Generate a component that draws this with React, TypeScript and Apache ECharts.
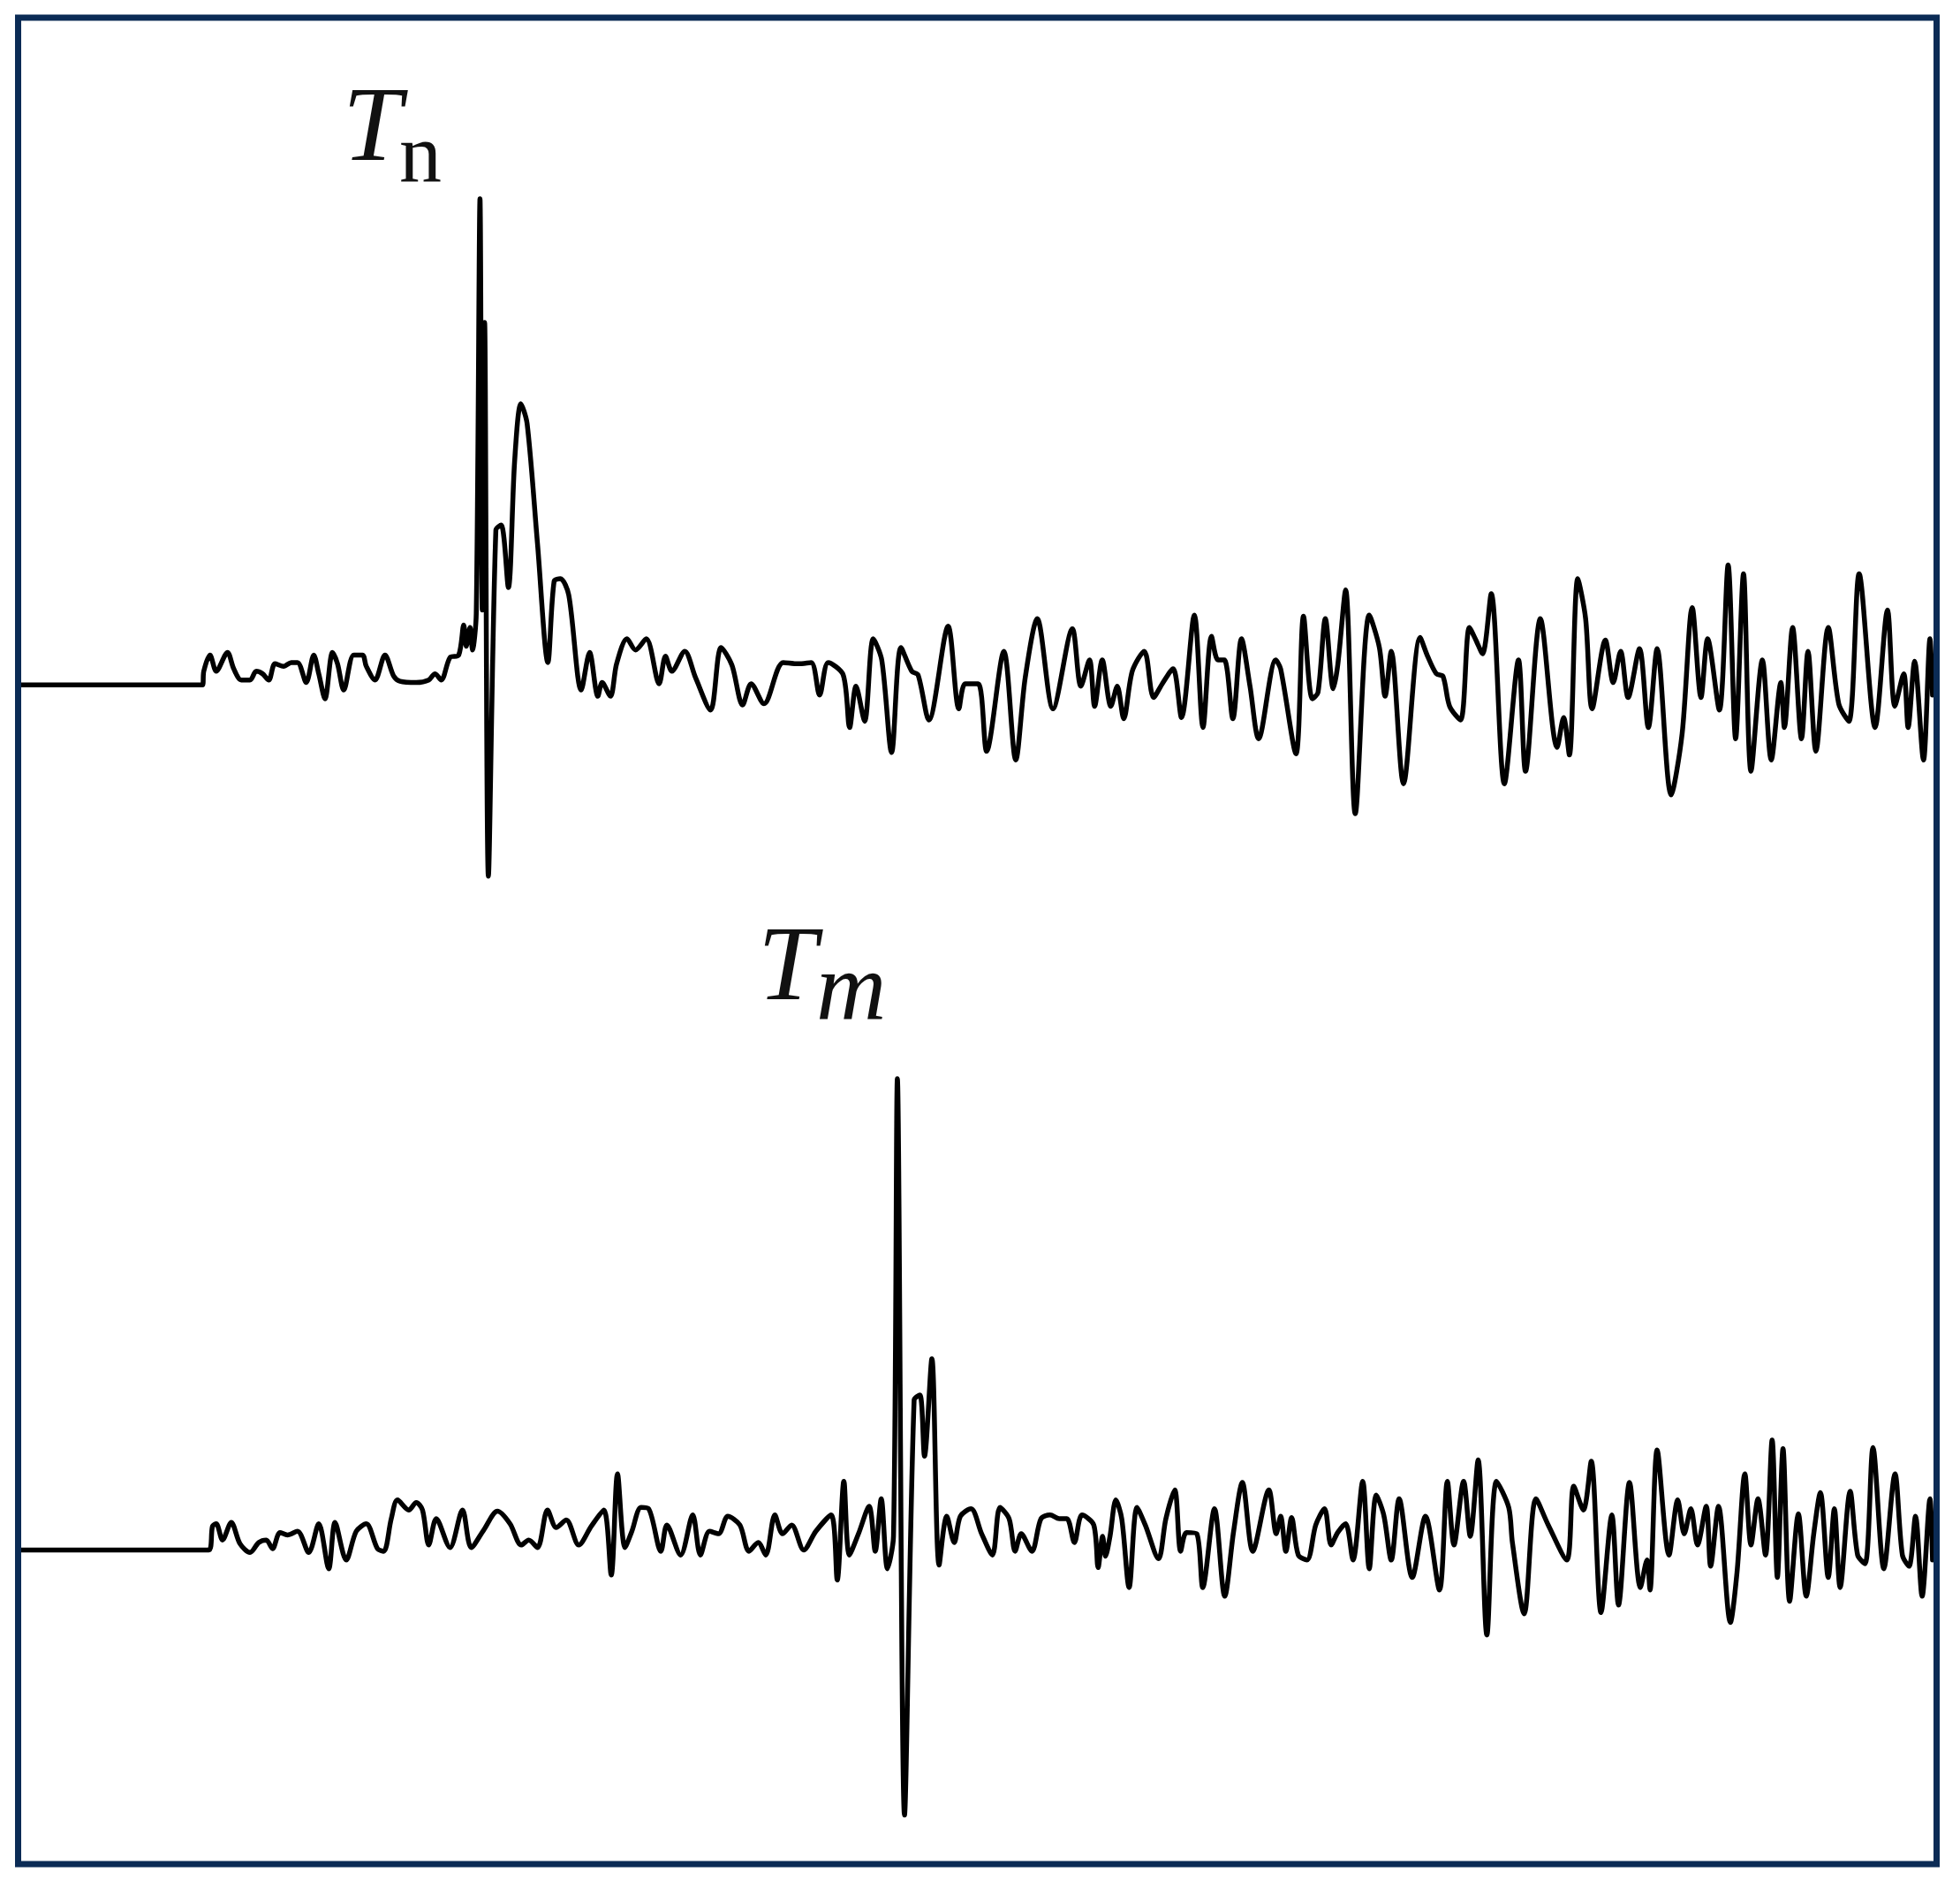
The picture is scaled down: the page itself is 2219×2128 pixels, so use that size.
import React, { useEffect, useRef } from "react";
import * as echarts from "echarts";

// Time axis units (sample position) and amplitude (relative to each trace's rest level)
const topTrace: [number, number][] = [
  [17, 0], [162, 0], [163, 11], [168, 24], [173, 11], [182, 26], [187, 13], [193, 4], [200, 4], [205, 11],
  [210, 9], [215, 4], [220, 17], [227, 15], [233, 18], [238, 18], [245, 2], [251, 24], [255, 9], [260, -11],
  [266, 26], [270, 17], [275, -4], [283, 24], [290, 24], [293, 15], [300, 4], [308, 24], [315, 7], [320, 3],
  [333, 2], [343, 4], [348, 9], [353, 4], [360, 22], [367, 24], [371, 48], [373, 31], [376, 46], [378, 28],
  [381, 57], [384, 389], [385.8, 60], [387.7, 290], [390.7, -153], [396.7, 124], [401, 128], [406.7, 78],
  [411.7, 179], [416.7, 225], [421.7, 209], [430, 113], [438.3, 18], [443.3, 83], [448.3, 85], [455, 72],
  [465, -4], [471.7, 26], [478.3, -9], [481.7, 2], [488.3, -9], [493.3, 17], [501.6, 37], [508.4, 28],
  [517, 37], [527.3, 1], [532.4, 23], [537.5, 11], [547.8, 27], [556.4, 6], [568.4, -20], [576.9, 30],
  [585.5, 16], [594.1, -16], [600.9, 1], [611.2, -15], [626.6, 18], [638.6, 17], [648.9, 18], [655.7, -8],
  [662.6, 18], [674.6, 8], [679.7, -34], [684.8, -1], [691.7, -29], [698.6, 37], [705.4, 20], [713.3, -54],
  [720.8, 30], [729.4, 11], [734.5, 8], [743.1, -28], [758.5, 47], [767.1, -19], [772.2, 1], [782.5, 1],
  [789.3, -53], [803.1, 27], [812.6, -60], [820.2, 6], [829.8, 53], [842.4, -19], [857.9, 45], [864.7, -1],
  [871.6, 20], [875.7, -17], [881.8, 20], [888.7, -17], [893.8, -1], [899, -27], [905.8, 11], [915.4, 27],
  [922.9, -10], [929.8, 1], [938.4, 13], [945.2, -26], [955.5, 56], [962.4, -34], [969.2, 39], [974.4, 20],
  [979.5, 20], [986.3, -27], [993.2, 37], [1000, -1], [1006.9, -43], [1020.6, 20], [1024.5, 13], [1036.8, -55],
  [1042.8, 55], [1049.8, -11], [1054.4, -6], [1060.3, 53], [1066.6, -3], [1070.2, 16], [1076.5, 76], [1084.2, -103],
  [1095.4, 56], [1103.5, 30], [1108.1, -9], [1113, 27], [1122.8, -79], [1136.1, 38], [1142.1, 23], [1149.1, 9],
  [1154.4, 7], [1159.7, -17], [1168.4, -28], [1175.5, 46], [1180.7, 36], [1186, 25], [1193, 73], [1203.5, -79],
  [1214.8, 20], [1220.4, -69], [1232.3, 53], [1245.7, -50], [1250.9, -26], [1255.5, -56], [1262.2, 85], [1268.5, 53],
  [1273.7, -19], [1284.3, 36], [1290.6, 2], [1296.5, 27], [1302.5, -10], [1311.6, 29], [1318.7, -34], [1325.7, 29],
  [1336.9, -88], [1345.7, -39], [1353.8, 62], [1360.8, -10], [1366.1, 37], [1375.5, -20], [1382.5, 96], [1388.5, -43],
  [1394.8, 89], [1400.8, -69], [1409.9, 20], [1417, -60], [1424.7, 2], [1427.5, -34], [1434.1, 46], [1441.2, -43],
  [1446.4, 27], [1452.7, -53], [1462.6, 46], [1471, -15], [1479.1, -29], [1487.3, 89], [1500.1, -34], [1510, 60],
  [1515.9, -17], [1523, 9], [1526.5, -34], [1531.7, 19], [1538.8, -60], [1544, 37], [1546, -8],
];

const bottomTrace: [number, number][] = [
  [17, 0], [167, 0], [170, 19], [173, 21], [178, 8], [185, 22], [192, 5], [200, -2], [207, 6], [213, 8],
  [218, 1], [224, 14], [230, 12], [238, 15], [247, -2], [255, 21], [263, -15], [268, 22], [277, -8], [285, 15],
  [293, 21], [302, 1], [307, -1], [313, 25], [318, 40], [327, 32], [333, 38], [338, 32], [343, 4], [349, 25],
  [360, 2], [370, 32], [377, 2], [387, 16], [398, 31], [408, 21], [417, 4], [423, 8], [430, 2], [438, 32],
  [445, 18], [453, 24], [463, 4], [473, 19], [483, 32], [489, -20], [494, 61], [500, 2], [505.5, 15], [512.8, 34],
  [518.9, 33], [528.7, -1], [533.5, 20], [544.5, -4], [554.2, 28], [560.3, -4], [567.6, 15], [574.9, 13],
  [582.2, 27], [591.9, 20], [599.2, -1], [606.5, 6], [612.6, -4], [619.9, 28], [626, 13], [633.3, 20],
  [643, 0], [652.7, 15], [664.9, 28], [669.8, -24], [675.1, 55], [679.5, -4], [686.8, 13], [695.3, 35],
  [700.2, -1], [705, 41], [709.9, -15], [714.8, 11], [717.9, 377], [723.6, -212], [731.3, 120], [736, 124],
  [739.6, 75], [745.5, 153], [751.3, -12], [757.4, 27], [763.4, 6], [768.3, 27], [776.8, 33], [785.3, 13],
  [793.9, -4], [800, 34], [807.3, 25], [812.1, -1], [817, 13], [825.5, -1], [832.8, 25], [840.1, 28],
  [847.4, 25], [853.5, 25], [859.5, 6], [865.6, 28], [875, 20], [878.5, -14], [882.1, 11], [884.4, -5],
  [888, 11], [892.7, 40], [897.4, 25], [903.3, -30], [909.6, 34], [916.2, 20], [926.8, -7], [932.7, 25],
  [939.8, 48], [944.5, -1], [949.2, 14], [957.4, 13], [962.2, -30], [971.6, 33], [979.8, -37], [986.9, 15],
  [993.9, 54], [1002.2, -1], [1015.1, 48], [1021, 13], [1024.5, 27], [1028.7, -1], [1033.3, 26], [1038.6, -4],
  [1045.6, -8], [1052.6, 20], [1059.6, 33], [1064.9, 4], [1070.2, 14], [1076.5, 21], [1082.4, -8], [1090.2, 55],
  [1095.4, -15], [1101, 44], [1107, 28], [1113, -8], [1119.3, 41], [1129.8, -22], [1140.4, 27], [1151.6, -32],
  [1157.9, 55], [1163.2, 4], [1170.9, 55], [1176.2, 11], [1182.5, 72], [1189.5, -68], [1197.2, 55], [1207, 34],
  [1209.9, 6], [1219.3, -51], [1228.8, 41], [1238.6, 20], [1253.4, -8], [1259, 51], [1266.7, 32], [1273, 71],
  [1280.8, -50], [1289.5, 28], [1294.8, -44], [1303.6, 54], [1312.3, -30], [1317.6, -8], [1320, -32], [1325.7, 80],
  [1335.2, -4], [1342.2, 40], [1347.4, 13], [1352.7, 33], [1358, 4], [1365, 35], [1368.5, -13], [1374.8, 35],
  [1384.3, -58], [1389.6, -18], [1395.9, 61], [1400.8, 4], [1406.4, 41], [1412.4, -4], [1417.7, 88], [1421.9, -22],
  [1426.4, 81], [1431.7, -41], [1438.7, 29], [1445, -37], [1451, 13], [1456.3, 46], [1462.6, -22], [1467.5, 33],
  [1472.1, -30], [1480.1, 47], [1486.1, -4], [1492.1, -11], [1498.4, 82], [1507.1, -15], [1516, 61], [1521.9, -4],
  [1527.2, -13], [1532.4, 27], [1537.7, -37], [1544, 41], [1546, -8],
];

const labelMain = ["T", "T"];
const labelSub = ["n", "m"];

// layout (pixels)
const W = 2219;
const H = 2128;
const X_RANGE: [number, number] = [0, 1568];
const TOP_Y_RANGE: [number, number] = [-204, 548];
const BOTTOM_Y_RANGE: [number, number] = [-264, 488];
const labelPos = [
  { tx: 388, tcy: 140, sx: 452, scy: 173, subSize: 96, subItalic: false },
  { tx: 858, tcy: 1090, sx: 924, scy: 1117, subSize: 110, subItalic: true },
];

export default function App() {
  const ref = useRef<HTMLDivElement>(null);

  useEffect(() => {
    if (!ref.current) return;
    const chart = echarts.init(ref.current, undefined, { renderer: "svg" });

    const graphics: any[] = [
      {
        type: "rect",
        shape: { x: 20.5, y: 20, width: 2172, height: 2090 },
        style: { fill: "none", stroke: "#0b2b55", lineWidth: 7 },
        silent: true,
        z: 10,
      },
    ];
    labelMain.forEach((t, i) => {
      const p = labelPos[i];
      graphics.push({
        type: "text",
        x: p.tx,
        y: p.tcy,
        style: {
          text: t,
          font: "italic 120px 'Liberation Serif', serif",
          fill: "#111",
          textAlign: "left",
          textVerticalAlign: "middle",
        },
        silent: true,
      });
      graphics.push({
        type: "text",
        x: p.sx,
        y: p.scy,
        style: {
          text: labelSub[i],
          font: (p.subItalic ? "italic " : "") + p.subSize + "px 'Liberation Serif', serif",
          fill: "#111",
          textAlign: "left",
          textVerticalAlign: "middle",
        },
        silent: true,
      });
    });

    const lineStyle = { color: "#000", width: 5.5, join: "round", cap: "round" } as any;

    chart.setOption({
      animation: false,
      backgroundColor: "#ffffff",
      grid: [
        { left: 0, right: 0, top: 0, height: 1064 },
        { left: 0, right: 0, top: 1064, height: 1064 },
      ],
      xAxis: [
        { type: "value", gridIndex: 0, min: X_RANGE[0], max: X_RANGE[1], show: false },
        { type: "value", gridIndex: 1, min: X_RANGE[0], max: X_RANGE[1], show: false },
      ],
      yAxis: [
        { type: "value", gridIndex: 0, min: TOP_Y_RANGE[0], max: TOP_Y_RANGE[1], show: false },
        { type: "value", gridIndex: 1, min: BOTTOM_Y_RANGE[0], max: BOTTOM_Y_RANGE[1], show: false },
      ],
      series: [
        {
          type: "line",
          name: "trace n",
          xAxisIndex: 0,
          yAxisIndex: 0,
          data: topTrace,
          showSymbol: false,
          symbol: "none",
          smooth: 0.3,
          lineStyle,
          clip: false,
        },
        {
          type: "line",
          name: "trace m",
          xAxisIndex: 1,
          yAxisIndex: 1,
          data: bottomTrace,
          showSymbol: false,
          symbol: "none",
          smooth: 0.3,
          lineStyle,
          clip: false,
        },
      ],
      graphic: graphics,
    });

    return () => chart.dispose();
  }, []);

  return (
    <div
      ref={ref}
      style={{ position: "absolute", left: 0, top: 0, width: W, height: H, background: "#fff" }}
    />
  );
}
